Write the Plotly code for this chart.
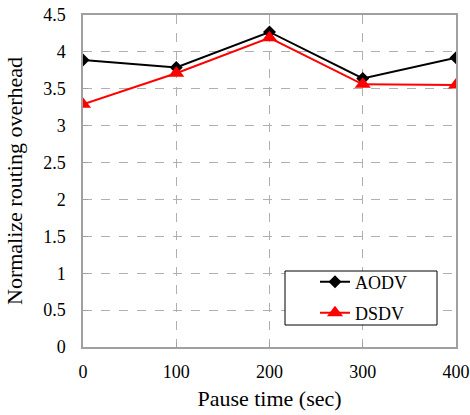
import plotly.graph_objects as go

pause_time = [0, 100, 200, 300, 400]
aodv = [3.89, 3.79, 4.27, 3.64, 3.92]
dsdv = [3.29, 3.71, 4.19, 3.56, 3.55]

fig = go.Figure()
fig.add_trace(go.Scatter(x=pause_time, y=aodv, name="AODV", mode="lines+markers",
                         legend="legend",
                         line=dict(color="black", width=2),
                         marker=dict(symbol="diamond", size=10, color="black")))
fig.add_trace(go.Scatter(x=pause_time, y=dsdv, name="DSDV", mode="lines+markers",
                         legend="legend2",
                         line=dict(color="red", width=2),
                         marker=dict(symbol="triangle-up", size=14, color="red")))

font = dict(family="Liberation Serif", size=18, color="black")
legfont = dict(family="Liberation Serif", size=18, color="black")
px = lambda x: (x - 83) / 373
py = lambda y: (347 - y) / 332
fig.update_layout(
    width=470, height=415,
    margin=dict(l=83, r=14, t=15, b=68),
    paper_bgcolor="white", plot_bgcolor="white",
    font=font,
    showlegend=True,
    legend=dict(x=px(315), y=py(282), xanchor="left", yanchor="middle",
                bgcolor="rgba(0,0,0,0)", borderwidth=0, font=legfont),
    legend2=dict(x=px(315), y=py(313), xanchor="left", yanchor="middle",
                 bgcolor="rgba(0,0,0,0)", borderwidth=0, font=legfont),
    shapes=[dict(type="rect", xref="paper", yref="paper", layer="above",
                 x0=px(285), x1=px(437), y0=py(325), y1=py(271),
                 fillcolor="white", line=dict(color="black", width=1))],
    xaxis=dict(range=[0, 400], tickvals=pause_time, ticks="inside", ticklen=5,
               tickcolor="#a0a0a0", showgrid=True, automargin=False,
               ticklabelstandoff=8,
               gridcolor="#b0b0b0", griddash="dash", gridwidth=1,
               showline=True, linecolor="#a0a0a0", linewidth=1.5, mirror=True,
               zeroline=False,
               title=dict(text="Pause time (sec)", standoff=9),
               tickfont=font),
    yaxis=dict(range=[0, 4.5], dtick=0.5, ticks="inside", ticklen=5,
               tickcolor="#a0a0a0", showgrid=True, automargin=False,
               ticklabelstandoff=12,
               gridcolor="#b0b0b0", griddash="dash", gridwidth=1,
               showline=True, linecolor="#a0a0a0", linewidth=1.5, mirror=True,
               zeroline=False, tickformat="~g",
               title=dict(text="Normalize routing overhead", standoff=14),
               tickfont=font),
)
fig.write_html("out.html", post_script="document.body.style.margin='0';",
               config={"displayModeBar": False})
